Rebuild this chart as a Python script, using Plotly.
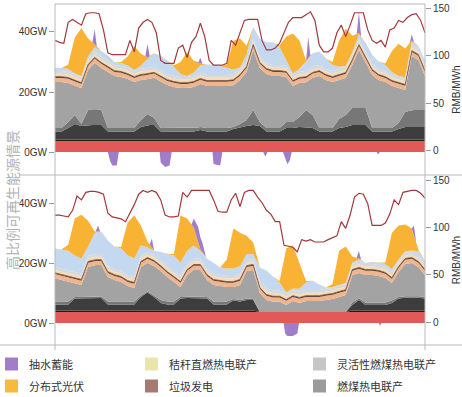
import plotly.graph_objects as go

# ---------------- data ----------------
hours3 = list(range(0, 169, 3))      # 3-hourly grid for stacked generation (GW)
hours2 = list(range(0, 169, 2))      # 2-hourly grid for price (RMB/MWh)
span = [0, 168]

# constant bands (GW)
red_band = [3.7, 3.7]
black_band = [0.5, 0.5]
peach_band = [1.4, 1.4]
brown_band = [0.4, 0.4]
cream_band = [1.0, 1.0]
lgray_band = [0.9, 0.9]

# ---- upper panel ----
top_dark = [2.6, 2.6, 3.8, 5.1, 4.5, 4.8, 4.8, 4.8,
            2.6, 2.6, 2.6, 2.6, 2.6, 4.1, 4.8, 4.8,
            2.6, 2.6, 2.6, 2.6, 2.6, 2.6, 3.1, 2.6,
            2.6, 2.6, 2.6, 3.5, 4.1, 4.5, 4.8, 4.5,
            2.6, 2.6, 2.6, 3.8, 3.8, 4.1, 4.1, 3.8,
            2.6, 2.6, 2.6, 3.8, 4.1, 4.8, 4.8, 4.8,
            2.6, 2.6, 2.6, 2.6, 3.5, 4.1, 4.1, 4.1, 4.1]
top_mid = [1.2, 1.2, 2.0, 3.0, 0.67, 5.0, 5.33, 5.0,
           1.2, 1.2, 1.2, 1.2, 1.2, 2.33, 3.67, 2.33,
           1.2, 1.2, 1.2, 1.2, 1.2, 1.2, 1.0, 1.2,
           1.2, 1.2, 1.2, 0.67, 1.0, 2.0, 5.0, 1.33,
           1.2, 1.2, 1.2, 2.0, 2.0, 3.33, 5.67, 4.33,
           1.2, 1.2, 1.2, 3.0, 4.0, 5.67, 5.67, 5.67,
           1.2, 1.2, 1.2, 1.2, 2.0, 5.0, 5.67, 5.67, 5.67]
top_gray = [15.3, 15.3, 13.0, 9.7, 11.9, 13.3, 15.4, 14.0,
            18.7, 17.3, 17.0, 16.3, 15.3, 13.4, 11.6, 13.4,
            15.5, 14.3, 13.7, 13.3, 13.3, 13.7, 14.4, 14.0,
            14.0, 14.0, 14.0, 13.9, 14.7, 16.0, 20.0, 18.0,
            18.0, 17.3, 17.3, 15.0, 12.0, 11.4, 9.3, 12.4,
            17.3, 16.0, 15.3, 13.0, 12.4, 14.3, 19.3, 15.3,
            17.7, 16.0, 15.3, 14.0, 11.6, 7.4, 18.0, 16.7, 11.3]
top_blue = [1.0, 1.0, 1.0, 0.5, 0.3, 0.8, 1.5, 2.0,
            1.5, 1.0, 1.0, 0.8, 0.3, 1.0, 3.0, 4.5,
            5.0, 4.5, 3.0, 1.0, 0.3, 1.0, 2.5, 3.5,
            3.5, 3.0, 2.5, 1.5, 0.5, 2.0, 4.0, 6.0,
            7.0, 7.5, 6.0, 2.0, 0.5, 1.0, 3.0, 4.5,
            4.5, 3.5, 2.0, 0.8, 0.3, 0.5, 1.5, 2.5,
            3.0, 2.5, 2.0, 1.0, 0.3, 0.5, 1.0, 1.0, 1.5]
top_solar = [0, 0, 1.5, 12, 16, 6, 1, 0,
             0, 0, 0.3, 3, 8, 4, 0.5, 0,
             0, 0, 0.5, 4, 8, 4, 0.5, 0,
             0, 0, 1, 9.6, 9.6, 3, 0, 0,
             0, 0, 0.5, 7.8, 13.3, 9.4, 0.5, 0,
             0, 0, 1, 8.6, 12.4, 5.6, 0.5, 0,
             0, 0, 0.5, 7, 10.8, 9.6, 0.5, 0, 0]
top_pump_h = [0, 17, 18, 19, 41, 42, 43, 65, 66, 67, 114, 115, 116, 137, 138, 139, 161, 162, 163, 168]
top_pump = [0, 0, 5, 0, 0, 4.5, 0, 0, 2, 0, 0, 7, 0, 0, 7, 0, 0, 2, 0, 0]
top_pumping_h = [0, 24, 25, 26, 28, 29, 47.5, 48, 50, 52, 53, 71.5, 72, 75, 76,
                 94.5, 95.5, 96.5, 103.5, 104.5, 105.5, 106.5, 107.5, 146, 146.7, 147.5, 168]
top_pumping = [0, 0, -3, -4.5, -4.5, 0, 0, -3.5, -5, -4.5, 0, 0, -4, -4.5, 0,
               0, -1.5, 0, 0, -2, -4, -3, 0, 0, -0.8, 0, 0]
top_price = [116, 114, 113, 135, 138, 135, 132, 144, 145, 145, 144, 127,
             103, 101, 101, 101, 101, 116, 104, 129, 135, 138, 135, 124,
             95, 92, 92, 92, 108, 111, 98, 114, 120, 134, 120, 95,
             90, 90, 90, 92, 116, 111, 124, 137, 138, 138, 138, 116,
             106, 106, 108, 113, 124, 135, 140, 140, 140, 143, 146, 137,
             111, 104, 104, 108, 124, 132, 120, 132, 145, 145, 145, 127,
             116, 113, 116, 109, 127, 129, 137, 135, 140, 143, 144, 137, 124]

# ---- lower panel (高比例可再生能源情景) ----
bot_black = [0.5, 0.5, 0.5, 0.5, 0.5, 0.5, 0.5, 0.5,
             0.5, 0.5, 0.5, 0.5, 0.5, 0.5, 0.5, 0.5,
             0.5, 0.5, 0.5, 0.5, 0.5, 0.5, 0.5, 0.5,
             0.5, 0.5, 0.5, 0.5, 0.5, 0.5, 0.5, 0,
             0, 0, 0, 0, 0, 0, 0, 0,
             0, 0, 0, 0, 0, 0.5, 0.5, 0.5,
             0.5, 0.5, 0.5, 0.5, 0.5, 0.5, 0.5, 0.5, 0.5]
bot_dark = [2.0, 2.0, 2.0, 4.0, 4.0, 4.1, 4.1, 4.1,
            2.0, 2.0, 2.0, 2.0, 2.0, 4.5, 6.0, 4.5,
            2.5, 2.0, 2.0, 4.0, 4.1, 4.1, 4.1, 4.0,
            2.0, 2.0, 2.0, 3.3, 3.0, 3.5, 3.5, 0,
            0, 0, 0, 0, 0, 0, 0, 0,
            0, 0, 0, 0, 0, 1.8, 3.5, 1.8,
            1.8, 1.8, 1.8, 2.5, 4.0, 4.2, 4.3, 4.2, 4.0]
bot_mid = [1.0, 1.0, 1.0, 0.5, 0.5, 0.5, 0.5, 0.5,
           1.0, 1.0, 1.0, 1.0, 1.0, 0.5, 0.3, 0.5,
           1.0, 1.0, 1.0, 0.5, 0.5, 0.5, 0.5, 0.5,
           1.0, 1.0, 1.0, 0.5, 0.5, 0.5, 0.5, 0,
           0, 0, 0, 0, 0, 0, 0, 0,
           0, 0, 0, 0, 0, 0.8, 0.5, 0.8,
           0.8, 0.8, 0.8, 0.8, 0.5, 0.5, 0.5, 0.5, 0.5]
bot_gray = [7.7, 7.1, 6.5, 4.6, 4.0, 9.9, 10.5, 10.5,
            8.1, 7.1, 6.5, 5.1, 4.5, 9.5, 9.5, 9.8,
            9.6, 8.1, 6.5, 3.3, 7.2, 8.9, 8.9, 5.6,
            5.5, 5.1, 4.8, 4.0, 5.0, 9.1, 9.5, 6.3,
            4.0, 3.4, 3.4, 2.3, 3.6, 3.0, 3.6, 3.6,
            3.6, 4.0, 4.3, 5.0, 5.6, 9.2, 8.5, 9.2,
            9.2, 8.9, 8.2, 5.8, 8.3, 10.8, 11.0, 9.8, 7.3]
bot_blue = [6.2, 6.5, 6.7, 5.5, 5.1, 3.0, 7.0, 7.5,
            8.5, 7.5, 7.4, 6.5, 6.1, 3.5, 1.5, 1.4,
            2.5, 4.1, 5.1, 4.4, 4.4, 4.4, 2.7, 3.5,
            3.7, 2.5, 2.5, 2.5, 2.5, 2.0, 1.5, 4.8,
            6.1, 4.7, 2.7, 0.5, 0.5, 1.0, 2.5, 3.1,
            1.8, 0.4, 0.3, 0.3, 0.3, 0.5, 0.8, 0.3,
            0.5, 0.8, 1.0, 1.0, 0.5, 0.5, 0.5, 1.5, 1.0]
bot_solar = [0, 0, 2, 12.3, 14.6, 8.7, 0.5, 0,
             0, 0, 0.5, 11, 14.3, 6.6, 2, 0,
             0, 0, 0.5, 15.7, 10.7, 6, 0.5, 0,
             0, 0, 3, 13.3, 11.2, 6.1, 3.9, 0,
             0, 0, 0.5, 14.6, 14.3, 8.7, 0.5, 0,
             0, 0, 1.0, 11.4, 12.2, 2, 0.3, 0,
             0, 0, 0.5, 12.1, 11.3, 8.9, 7.3, 0.5, 0]
bot_pump_h = [0, 18.5, 19.5, 20.5, 43, 44, 45, 62, 63, 65, 67, 68.5, 137, 138, 139, 162, 163, 164, 168]
bot_pump = [0, 0, 2, 0, 0, 3, 0, 0, 3, 5, 3, 0, 0, 2.5, 0, 0, 3.3, 0, 0]
bot_pumping_h = [0, 103.8, 104.5, 105.5, 108, 110, 110.8, 147, 147.6, 148.2, 168]
bot_pumping = [0, 0, -3.5, -4.3, -4.3, -3.5, 0, 0, -1, 0, 0]
bot_price = [113, 113, 112, 111, 118, 133, 129, 137, 138, 138, 137, 135,
             115, 111, 110, 109, 106, 115, 124, 135, 139, 137, 139, 137,
             129, 113, 111, 111, 112, 137, 132, 139, 139, 139, 139, 139,
             129, 117, 116, 116, 129, 136, 122, 137, 139, 139, 132, 126,
             118, 114, 106, 106, 81, 80, 79, 74, 87, 85.5, 87, 84.5,
             84.5, 84.5, 87, 89, 91, 106, 99, 113, 132, 136, 135, 125,
             102, 102, 102, 104.5, 114, 129, 124, 137, 138, 139, 139, 136, 131]

# legend entries, listed column by column
legend_names = ["抽水蓄能", "分布式光伏", "秸秆直燃热电联产", "垃圾发电", "灵活性燃煤热电联产", "燃煤热电联产"]
legend_colors = ["#a07ec8", "#f8b93e", "#e9e5ad", "#a57a70", "#c6c6c6", "#9b9b9b"]

# ---------------- styles ----------------
C = dict(red="#e25a58", black="#1c1c1c", dark="#3d3d3d", mid="#777777", gray="#a3a3a3",
         peach="#f1b58d", brown="#6a4536", cream="#f4dcb8", lgray="#d8d8d8",
         blue="#c4d8ef", solar="#f8b234", purple="#9f7dc9", price="#a3383c")

fig = go.Figure()


def stack(x, y, color, xa, ya, group, first=False, lw=0, lc=None):
    kw = dict(stackgaps="interpolate") if first else {}
    fig.add_trace(go.Scatter(x=x, y=y, mode="lines", stackgroup=group, fillcolor=color,
                             line=dict(width=lw, color=lc or color), xaxis=xa, yaxis=ya,
                             showlegend=False, hoverinfo="skip", **kw))


panels = [
    ("x", "y", "y2", "g1", black_band, span, top_dark, top_mid, top_gray, top_blue, top_solar,
     top_pump_h, top_pump, top_pumping_h, top_pumping, top_price),
    ("x2", "y3", "y4", "g2", bot_black, hours3, bot_dark, bot_mid, bot_gray, bot_blue, bot_solar,
     bot_pump_h, bot_pump, bot_pumping_h, bot_pumping, bot_price),
]

for (xa, ya, ya2, g, blk, blk_x, dark, mid, gray, blue, solar, ph, pv, nh, nv, price) in panels:
    stack(span, red_band, C["red"], xa, ya, g, first=True)
    stack(blk_x, blk, C["black"], xa, ya, g)
    stack(hours3, dark, C["dark"], xa, ya, g)
    stack(hours3, mid, C["mid"], xa, ya, g)
    stack(hours3, gray, C["gray"], xa, ya, g)
    stack(span, peach_band, C["peach"], xa, ya, g)
    stack(span, brown_band, C["brown"], xa, ya, g, lw=0.8, lc=C["brown"])
    stack(span, cream_band, C["cream"], xa, ya, g)
    stack(span, lgray_band, C["lgray"], xa, ya, g)
    stack(hours3, blue, C["blue"], xa, ya, g)
    stack(hours3, solar, C["solar"], xa, ya, g)
    stack(ph, pv, C["purple"], xa, ya, g)
    fig.add_trace(go.Scatter(x=nh, y=nv, mode="lines", fill="tozeroy", fillcolor=C["purple"],
                             line=dict(width=0, color=C["purple"]), xaxis=xa, yaxis=ya,
                             showlegend=False, hoverinfo="skip"))
    fig.add_trace(go.Scatter(x=hours2, y=price, mode="lines", line=dict(width=1.2, color=C["price"]),
                             xaxis=xa, yaxis=ya2, showlegend=False, hoverinfo="skip"))

tickfont = dict(family="Liberation Sans, Arial, sans-serif", size=10, color="#333333")
split = 0.4985
gw_axis = dict(tickvals=[0, 20, 40], ticktext=["0GW", "20GW", "40GW"], ticks="outside", ticklen=5,
               tickcolor="#9a9a9a", showgrid=False, zeroline=False, showline=False, tickfont=tickfont)
pr_axis = dict(side="right", tickvals=[0, 50, 100, 150], ticks="outside", ticklen=5, tickcolor="#9a9a9a",
               showgrid=False, zeroline=False, showline=False, tickfont=tickfont,
               title=dict(text="RMB/MWh", font=tickfont, standoff=4))
xax = dict(range=[0, 168], visible=False, showgrid=False, zeroline=False)

fig.update_layout(
    width=462, height=397, margin=dict(l=55, r=37, t=4, b=52, autoexpand=False),
    paper_bgcolor="white", plot_bgcolor="white", showlegend=False,
    xaxis=dict(domain=[0, 1], anchor="y", **xax),
    xaxis2=dict(domain=[0, 1], anchor="y3", **xax),
    yaxis=dict(domain=[split, 1], range=[-7.67, 49.33], anchor="x", **gw_axis),
    yaxis2=dict(overlaying="y", anchor="x", range=[-25.2, 154.2], **pr_axis),
    yaxis3=dict(domain=[0, split], range=[-7.33, 49.33], anchor="x2", **gw_axis),
    yaxis4=dict(overlaying="y3", anchor="x2", range=[-24.3, 155.3], **pr_axis),
)

# frame lines
lc = "#b9b9b9"
shapes = [
    dict(type="line", xref="paper", yref="paper", x0=0, x1=1, y0=1, y1=1),
    dict(type="line", xref="paper", yref="paper", x0=-0.095, x1=1.1, y0=split, y1=split),
    dict(type="line", xref="paper", yref="paper", x0=-0.149, x1=1.1, y0=0, y1=0),
    dict(type="line", xref="paper", yref="paper", x0=0, x1=0, y0=-0.015, y1=1),
    dict(type="line", xref="paper", yref="paper", x0=1, x1=1, y0=-0.015, y1=1),
]
for s in shapes:
    s["line"] = dict(color=lc, width=1)

annotations = [dict(text="高比例可再生能源情景", xref="paper", yref="paper", x=-0.1162, y=0.425,
                    textangle=-90, showarrow=False, xanchor="center", yanchor="middle",
                    font=dict(family="Noto Sans CJK SC", size=14, color="#b2b2b2"))]

# manual legend: 3 columns x 2 rows, filled column by column
col_px = [5, 145, 313]
row_py = [364, 386]
for k, (name, colr) in enumerate(zip(legend_names, legend_colors)):
    r, c = k % 2, k // 2
    px0 = col_px[c]
    py = row_py[r]
    shapes.append(dict(type="rect", xref="paper", yref="paper",
                       x0=(px0 - 55) / 370, x1=(px0 + 13 - 55) / 370,
                       y0=(345 - (py - 6.5)) / 341, y1=(345 - (py + 6.5)) / 341,
                       fillcolor=colr, line=dict(width=0)))
    annotations.append(dict(text=name, xref="paper", yref="paper", x=(px0 + 22 - 55) / 370,
                            y=(345 - py) / 341, xanchor="left", yanchor="middle", showarrow=False,
                            font=dict(family="Noto Sans CJK SC", size=11, color="#333333")))

fig.update_layout(shapes=shapes, annotations=annotations)
fig.write_html("out.html", config={"displayModeBar": False},
               post_script="document.body.style.margin='0px';")
